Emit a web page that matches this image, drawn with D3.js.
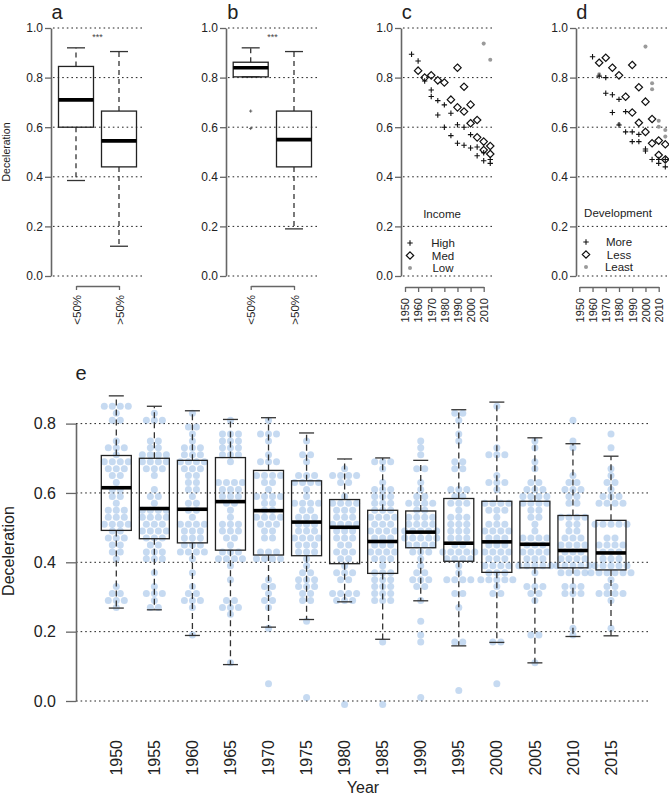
<!DOCTYPE html>
<html>
<head>
<meta charset="utf-8">
<script src="https://cdnjs.cloudflare.com/ajax/libs/d3/7.8.5/d3.min.js"></script>
<style>
  body { margin: 0; background: #fff; }
  svg { display: block; font-family: "Liberation Sans", Arial, sans-serif; }
</style>
</head>
<body>
<script>
// ---- panels a & b: five-number summaries [low whisker, Q1, median, Q3, high whisker]
const groups = ['<50%', '>50%'];
const statsA = [[0.385, 0.60, 0.71, 0.845, 0.92], [0.12, 0.44, 0.545, 0.665, 0.905]];
const statsB = [[0.803, 0.803, 0.84, 0.862, 0.92], [0.19, 0.44, 0.55, 0.665, 0.905]];
const outliersB = [0.665, 0.595];          // both belong to the '<50%' group
const fracTicks = [0, 0.2, 0.4, 0.6, 0.8, 1.0];
const decades = [1950, 1960, 1970, 1980, 1990, 2000, 2010];

// ---- panel c: [year, deceleration] by income
const incomeHigh = [[1955, 0.894], [1960, 0.867], [1965, 0.786], [1970, 0.75], [1970, 0.724], [1975, 0.707], [1975, 0.649],
  [1980, 0.69], [1980, 0.60], [1985, 0.656], [1985, 0.566], [1990, 0.61], [1990, 0.535], [1995, 0.60], [1995, 0.527],
  [2000, 0.57], [2000, 0.516], [2005, 0.52], [2005, 0.485], [2010, 0.497], [2010, 0.465], [2015, 0.47], [2015, 0.454]];
const incomeMed = [[1960, 0.828], [1965, 0.80], [1970, 0.809], [1975, 0.789], [1980, 0.78], [1985, 0.711], [1990, 0.84],
  [1990, 0.68], [1995, 0.763], [1995, 0.663], [2000, 0.691], [2000, 0.616], [2005, 0.629], [2005, 0.559], [2010, 0.542],
  [2010, 0.508], [2015, 0.524], [2015, 0.492]];
const incomeLow = [[2010, 0.937], [2015, 0.872]];

// ---- panel d: [year, deceleration] by development
const devMore = [[1960, 0.884], [1965, 0.806], [1970, 0.80], [1970, 0.737], [1975, 0.731], [1975, 0.659], [1980, 0.712],
  [1980, 0.609], [1985, 0.663], [1985, 0.581], [1990, 0.581], [1990, 0.542], [1995, 0.571], [1995, 0.542], [2000, 0.512],
  [2000, 0.504], [2005, 0.47], [2010, 0.47], [2010, 0.454], [2015, 0.47], [2015, 0.44]];
const devLess = [[1965, 0.86], [1970, 0.88], [1975, 0.84], [1980, 0.809], [1985, 0.723], [1990, 0.851], [1990, 0.659],
  [1995, 0.761], [1995, 0.618], [2000, 0.703], [2000, 0.581], [2005, 0.633], [2005, 0.535], [2010, 0.546], [2010, 0.488],
  [2015, 0.531], [2015, 0.47]];
const devLeast = [[1965, 0.813], [1980, 0.612], [2000, 0.925], [2005, 0.777], [2005, 0.753], [2010, 0.626], [2010, 0.602],
  [2015, 0.589], [2015, 0.562]];

// ---- panel e: per-year summaries and the countries behind them
const years = [1950, 1955, 1960, 1965, 1970, 1975, 1980, 1985, 1990, 1995, 2000, 2005, 2010, 2015];
const statsE = [
  [0.268, 0.492, 0.615, 0.708, 0.880], [0.263, 0.468, 0.555, 0.700, 0.850], [0.189, 0.456, 0.553, 0.694, 0.837],
  [0.105, 0.435, 0.575, 0.702, 0.812], [0.213, 0.421, 0.549, 0.665, 0.817], [0.235, 0.419, 0.516, 0.635, 0.773],
  [0.286, 0.396, 0.501, 0.581, 0.698], [0.178, 0.368, 0.460, 0.550, 0.701], [0.289, 0.442, 0.487, 0.548, 0.694],
  [0.159, 0.403, 0.455, 0.584, 0.840], [0.169, 0.371, 0.459, 0.576, 0.862], [0.110, 0.384, 0.452, 0.576, 0.759],
  [0.186, 0.384, 0.434, 0.535, 0.742], [0.188, 0.378, 0.427, 0.521, 0.706]];
const eTicks = [0, 0.2, 0.4, 0.6, 0.8];
// swarm rows as [value, number of countries]
const dotRows = [
  [[.85, 4], [.83, 1], [.81, 2], [.75, 1], [.73, 3], [.71, 1], [.69, 4], [.67, 3], [.65, 2], [.63, 1], [.61, 2], [.59, 2], [.57, 1], [.55, 3], [.53, 3], [.51, 4], [.49, 2], [.47, 3], [.45, 2], [.43, 2], [.41, 1], [.33, 1], [.31, 2], [.29, 3], [.27, 1]],
  [[.83, 1], [.81, 3], [.75, 2], [.73, 2], [.71, 4], [.69, 4], [.67, 3], [.65, 1], [.61, 1], [.59, 2], [.57, 1], [.55, 4], [.53, 4], [.51, 3], [.49, 4], [.47, 3], [.45, 2], [.43, 3], [.41, 3], [.37, 1], [.33, 1], [.31, 3], [.29, 1], [.27, 2]],
  [[.83, 1], [.79, 2], [.77, 1], [.75, 1], [.73, 3], [.71, 3], [.69, 4], [.67, 3], [.65, 2], [.63, 2], [.61, 2], [.59, 1], [.57, 2], [.55, 2], [.53, 1], [.51, 4], [.49, 3], [.47, 3], [.45, 3], [.43, 4], [.41, 1], [.37, 1], [.33, 1], [.31, 2], [.29, 3], [.27, 1], [.19, 1]],
  [[.81, 1], [.77, 3], [.75, 3], [.73, 3], [.71, 3], [.69, 1], [.63, 4], [.61, 3], [.59, 3], [.57, 2], [.55, 1], [.53, 1], [.51, 3], [.49, 3], [.47, 2], [.45, 1], [.43, 3], [.41, 4], [.39, 1], [.35, 1], [.29, 2], [.27, 3], [.25, 1], [.11, 1]],
  [[.81, 1], [.77, 3], [.75, 1], [.71, 1], [.69, 3], [.65, 4], [.63, 2], [.61, 1], [.59, 4], [.57, 2], [.55, 2], [.53, 4], [.51, 3], [.49, 2], [.47, 2], [.43, 3], [.41, 4], [.35, 1], [.33, 2], [.31, 1], [.29, 2], [.27, 1], [.21, 1], [.05, 1]],
  [[.75, 1], [.71, 2], [.69, 1], [.65, 3], [.63, 4], [.61, 1], [.59, 1], [.57, 4], [.55, 2], [.53, 3], [.51, 3], [.49, 3], [.47, 4], [.45, 3], [.43, 3], [.41, 1], [.39, 1], [.37, 2], [.35, 3], [.33, 3], [.31, 2], [.29, 2], [.23, 1], [.01, 1]],
  [[.67, 1], [.65, 4], [.63, 2], [.59, 1], [.57, 4], [.55, 3], [.53, 3], [.51, 4], [.49, 3], [.47, 3], [.45, 2], [.43, 3], [.41, 2], [.39, 1], [.37, 3], [.35, 2], [.31, 4], [.29, 3], [-.01, 1]],
  [[.69, 3], [.67, 1], [.63, 1], [.61, 3], [.59, 3], [.57, 3], [.55, 3], [.53, 4], [.51, 3], [.49, 4], [.47, 3], [.45, 3], [.43, 4], [.41, 3], [.39, 1], [.37, 3], [.35, 3], [.33, 3], [.31, 3], [.29, 3], [.17, 1], [-.01, 1]],
  [[.75, 1], [.73, 1], [.71, 1], [.67, 2], [.63, 1], [.61, 1], [.59, 2], [.57, 4], [.55, 2], [.53, 4], [.51, 4], [.49, 5], [.47, 5], [.45, 4], [.43, 3], [.41, 1], [.39, 1], [.37, 2], [.35, 3], [.33, 2], [.29, 1], [.23, 1], [.19, 1], [.17, 1], [.01, 1]],
  [[.83, 2], [.81, 1], [.77, 1], [.75, 1], [.69, 2], [.67, 2], [.61, 3], [.59, 2], [.57, 3], [.55, 1], [.53, 3], [.51, 3], [.49, 3], [.47, 3], [.45, 2], [.43, 5], [.41, 4], [.39, 1], [.37, 1], [.35, 4], [.31, 2], [.27, 1], [.17, 2], [.03, 1]],
  [[.85, 1], [.73, 1], [.71, 3], [.65, 1], [.63, 3], [.61, 1], [.57, 4], [.55, 3], [.53, 1], [.51, 3], [.49, 4], [.47, 3], [.45, 3], [.43, 4], [.41, 3], [.39, 4], [.37, 3], [.35, 5], [.33, 1], [.31, 2], [.17, 2], [.05, 1]],
  [[.75, 1], [.73, 1], [.69, 1], [.67, 1], [.63, 2], [.61, 3], [.59, 4], [.57, 4], [.55, 2], [.53, 2], [.51, 1], [.49, 1], [.47, 4], [.45, 3], [.43, 4], [.41, 3], [.39, 5], [.37, 1], [.33, 3], [.31, 2], [.29, 1], [.19, 2], [.11, 1]],
  [[.81, 1], [.75, 1], [.73, 1], [.65, 1], [.63, 2], [.61, 3], [.59, 2], [.57, 2], [.53, 4], [.51, 2], [.49, 2], [.47, 3], [.45, 4], [.43, 3], [.41, 4], [.39, 5], [.37, 4], [.33, 3], [.31, 3], [.21, 1], [.19, 1]],
  [[.77, 1], [.73, 1], [.67, 1], [.65, 1], [.63, 2], [.61, 1], [.59, 3], [.57, 4], [.51, 5], [.47, 2], [.45, 4], [.43, 3], [.41, 3], [.39, 5], [.37, 6], [.35, 1], [.33, 2], [.31, 4], [.29, 1], [.21, 1]]
];

const svg = d3.select('body').append('svg')
  .attr('width', 669)
  .attr('height', 796);

const ink = '#222';
const axisGrey = '#666';

// ---- shared helpers
function gridLines(scale, ticks, x0, x1) {
  svg.append('g').selectAll('line')
    .data(ticks)
    .join('line')
      .attr('x1', x0).attr('x2', x1)
      .attr('y1', d => scale(d)).attr('y2', d => scale(d))
      .attr('stroke', ink)
      .attr('stroke-width', 1)
      .attr('stroke-dasharray', '1.6,3');
}

function yAxis(x, scale, ticks, size, pad, fontSize) {
  const g = svg.append('g')
    .attr('transform', `translate(${x},0)`)
    .call(d3.axisLeft(scale).tickValues(ticks).tickFormat(d3.format('.1f'))
      .tickSize(size).tickSizeOuter(0).tickPadding(pad));
  g.select('.domain').attr('stroke', axisGrey).attr('stroke-width', 1.6);
  g.selectAll('.tick line').attr('stroke', axisGrey).attr('stroke-width', 1.3);
  g.selectAll('.tick text').attr('font-size', fontSize).attr('fill', ink)
    .attr('font-family', '"Liberation Sans", Arial, sans-serif');
  return g;
}

// bottom axis whose labels are turned to read upwards
function xAxisRotated(scale, y, tickLen, gap, fontSize, values) {
  const axis = d3.axisBottom(scale).tickSize(tickLen).tickSizeOuter(0);
  if (values) axis.tickValues(values).tickFormat(d3.format('d'));
  const g = svg.append('g').attr('transform', `translate(0,${y})`).call(axis);
  g.select('.domain').attr('stroke', axisGrey).attr('stroke-width', 1.4);
  g.selectAll('.tick line').attr('stroke', axisGrey).attr('stroke-width', 1.3);
  g.selectAll('.tick text')
    .attr('transform', 'rotate(-90)')
    .attr('text-anchor', 'end')
    .attr('x', -gap).attr('y', 0).attr('dy', '0.35em')
    .attr('font-size', fontSize).attr('fill', ink)
    .attr('font-family', '"Liberation Sans", Arial, sans-serif');
}

function boxplots(stats, xOf, y, boxW, capW, dash) {
  const b = svg.append('g').selectAll('g')
    .data(stats)
    .join('g')
      .attr('transform', (d, i) => `translate(${xOf(i)},0)`);
  // dashed whiskers
  b.append('line').attr('y1', d => y(d[3])).attr('y2', d => y(d[4]));
  b.append('line').attr('y1', d => y(d[1])).attr('y2', d => y(d[0]));
  b.selectAll('line')
    .attr('stroke', '#333').attr('stroke-width', 1.3).attr('stroke-dasharray', dash);
  // caps
  b.append('line').attr('x1', -capW / 2).attr('x2', capW / 2)
    .attr('y1', d => y(d[4])).attr('y2', d => y(d[4]))
    .attr('stroke', '#333').attr('stroke-width', 1.3);
  b.append('line').attr('x1', -capW / 2).attr('x2', capW / 2)
    .attr('y1', d => y(d[0])).attr('y2', d => y(d[0]))
    .attr('stroke', '#333').attr('stroke-width', 1.3);
  // box + median
  b.append('rect')
    .attr('x', -boxW / 2).attr('width', boxW)
    .attr('y', d => y(d[3])).attr('height', d => y(d[1]) - y(d[3]))
    .attr('fill', 'none').attr('stroke', ink).attr('stroke-width', 1.3);
  b.append('line').attr('x1', -boxW / 2).attr('x2', boxW / 2)
    .attr('y1', d => y(d[2])).attr('y2', d => y(d[2]))
    .attr('stroke', '#000').attr('stroke-width', 3.6);
}

function label(x, y, txt, size, opts = {}) {
  const t = svg.append('text')
    .attr('x', x).attr('y', y)
    .attr('font-size', size)
    .attr('fill', opts.fill || ink)
    .attr('text-anchor', opts.anchor || 'middle')
    .text(txt);
  if (opts.rotate) t.attr('transform', `rotate(-90,${x},${y})`);
  return t;
}

const plusPath = r => `M${-r},0H${r}M0,${-r}V${r}`;
const diamondPath = r => `M0,${-r}L${r},0L0,${r}L${-r},0Z`;

function markers(data, x, y, kind) {
  const sel = svg.append('g').selectAll('path')
    .data(data)
    .join('path')
      .attr('transform', d => `translate(${x(d[0])},${y(d[1])})`);
  if (kind === 'plus') sel.attr('d', plusPath(2.7)).attr('stroke', '#111').attr('stroke-width', 1.1).attr('fill', 'none');
  if (kind === 'diamond') sel.attr('d', diamondPath(3.7)).attr('stroke', '#111').attr('stroke-width', 1.2).attr('fill', 'none');
  if (kind === 'dot') sel.attr('d', d3.symbol(d3.symbolCircle, 13)()).attr('fill', '#9a9a9a');
}

function legend(x, y, title, names) {
  label(x + 32, y, title, 11.5);
  const kinds = ['plus', 'diamond', 'dot'];
  names.forEach((n, i) => {
    const yy = y + 25 + i * 12.5;
    const p = svg.append('path').attr('transform', `translate(${x},${yy})`);
    if (kinds[i] === 'plus') p.attr('d', plusPath(2.7)).attr('stroke', '#111').attr('stroke-width', 1.1);
    if (kinds[i] === 'diamond') p.attr('d', diamondPath(3.7)).attr('stroke', '#111').attr('stroke-width', 1.2).attr('fill', 'none');
    if (kinds[i] === 'dot') p.attr('d', d3.symbol(d3.symbolCircle, 13)()).attr('fill', '#9a9a9a');
    label(x + 33, yy + 4, n, 11.5);
  });
}

// ---- top row, common y scale
const yTop = d3.scaleLinear().domain([0, 1]).range([276, 28]);

// panel a
const xA = d3.scalePoint().domain(groups).range([76, 119]);
gridLines(yTop, fracTicks, 53, 142);
yAxis(51, yTop, fracTicks, 6, 2, 12);
boxplots(statsA, i => xA(groups[i]), yTop, 35, 18, '5,4');
xAxisRotated(xA, 286, 4, 9, 11.5);
label(57, 19, 'a', 20);
label(97.5, 40, '***', 9, { fill: '#444' });
label(10, 152, 'Deceleration', 10.5, { rotate: true });

// panel b
const xB = d3.scalePoint().domain(groups).range([250.7, 294]);
gridLines(yTop, fracTicks, 228, 317);
yAxis(226, yTop, fracTicks, 6, 2, 12);
boxplots(statsB, i => xB(groups[i]), yTop, 35, 18, '5,4');
svg.append('g').selectAll('path')
  .data(outliersB)
  .join('path')
    .attr('transform', d => `translate(${xB(groups[0])},${yTop(d)})`)
    .attr('d', plusPath(1.6))
    .attr('stroke', '#555').attr('stroke-width', 0.9);
xAxisRotated(xB, 286, 4, 9, 11.5);
label(232.7, 19, 'b', 20);
label(272.5, 40, '***', 9, { fill: '#444' });

// panel c
const xC = d3.scaleLinear().domain([1950, 2010]).range([405, 483.7]);
gridLines(yTop, fracTicks, 403, 493);
yAxis(401, yTop, fracTicks, 6, 2, 12);
markers(incomeLow, xC, yTop, 'dot');
markers(incomeMed, xC, yTop, 'diamond');
markers(incomeHigh, xC, yTop, 'plus');
xAxisRotated(xC, 287, 5, 11, 11, decades);
legend(410, 218, 'Income', ['High', 'Med', 'Low']);
label(406.7, 19, 'c', 20);

// panel d
const xD = d3.scaleLinear().domain([1950, 2010]).range([579.3, 658.7]);
gridLines(yTop, fracTicks, 578, 669);
yAxis(576, yTop, fracTicks, 6, 2, 12);
markers(devLeast, xD, yTop, 'dot');
markers(devLess, xD, yTop, 'diamond');
markers(devMore, xD, yTop, 'plus');
xAxisRotated(xD, 287, 5, 11, 11, decades);
legend(586, 217, 'Development', ['More', 'Less', 'Least']);
label(581.7, 19, 'd', 20);

// ---- panel e
const yE = d3.scaleLinear().domain([0, 0.8]).range([701, 423.6]);
const xE = d3.scalePoint().domain(years).range([116.3, 611]);

gridLines(yE, eTicks, 76, 650);

// swarm: each row of countries is spread sideways around its year
const swarm = [];
years.forEach((yr, i) => {
  dotRows[i].forEach(([v, n]) => {
    for (let k = 0; k < n; k++) swarm.push({ x: xE(yr) + (k - (n - 1) / 2) * 8, v });
  });
});
svg.append('g').selectAll('circle')
  .data(swarm)
  .join('circle')
    .attr('cx', d => d.x)
    .attr('cy', d => yE(d.v))
    .attr('r', 3.5)
    .attr('fill', '#5b95d6')
    .attr('fill-opacity', 0.35);

boxplots(statsE, i => xE(years[i]), yE, 30, 15, '6,4');
yAxis(76, yE, eTicks, 10, 10, 16);

svg.append('g').selectAll('text')
  .data(years)
  .join('text')
    .attr('transform', d => `translate(${xE(d)},740) rotate(-90)`)
    .attr('text-anchor', 'end')
    .attr('dy', '0.35em')
    .attr('font-size', 16)
    .attr('fill', ink)
    .text(d => d);

label(81, 380, 'e', 20);
label(363, 793, 'Year', 16);
label(13.5, 551, 'Deceleration', 16, { rotate: true });
</script>
</body>
</html>
